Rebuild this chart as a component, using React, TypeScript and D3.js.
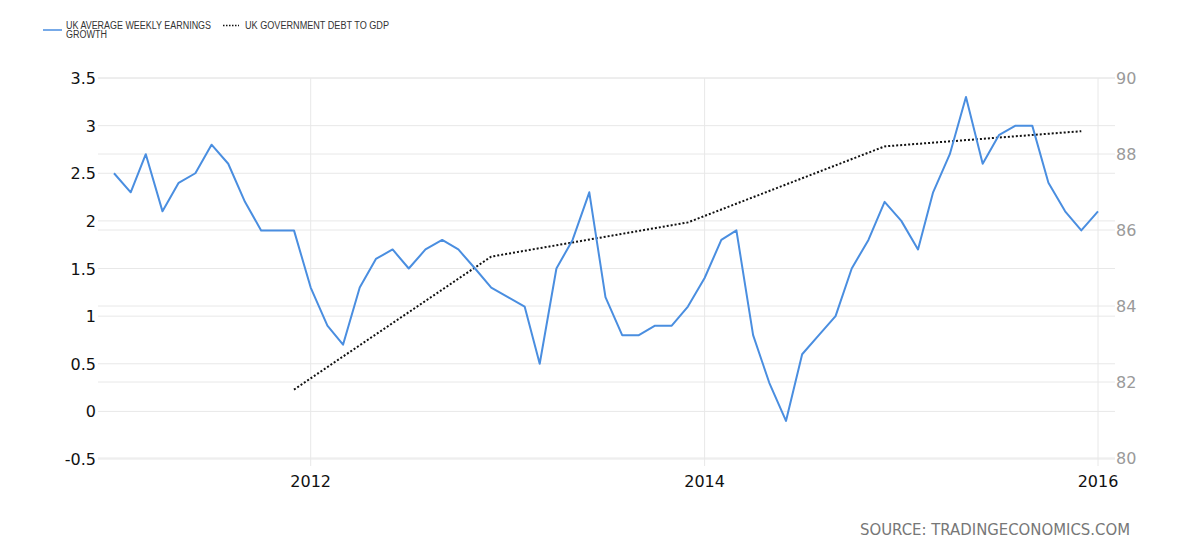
import { useMemo } from 'react'
import * as d3 from 'd3'

// monthly, Jan 2011 .. Jan 2016
const earningsStart = '2011-01-01'
const earningsGrowth = [
  2.5, 2.3, 2.7, 2.1, 2.4, 2.5, 2.8, 2.6, 2.2, 1.9, 1.9, 1.9,
  1.3, 0.9, 0.7, 1.3, 1.6, 1.7, 1.5, 1.7, 1.8, 1.7, 1.5, 1.3,
  1.2, 1.1, 0.5, 1.5, 1.8, 2.3, 1.2, 0.8, 0.8, 0.9, 0.9, 1.1,
  1.4, 1.8, 1.9, 0.8, 0.3, -0.1, 0.6, 0.8, 1.0, 1.5, 1.8, 2.2,
  2.0, 1.7, 2.3, 2.7, 3.3, 2.6, 2.9, 3.0, 3.0, 2.4, 2.1, 1.9,
  2.1,
]

const debtDates = ['2011-12-01', '2012-12-01', '2013-12-01', '2014-12-01', '2015-12-01']
const debtToGdp = [81.8, 85.3, 86.2, 88.2, 88.6]

const leftTicks = [-0.5, 0, 0.5, 1, 1.5, 2, 2.5, 3, 3.5]
const rightTicks = [80, 82, 84, 86, 88, 90]
const yearTicks = ['2012-01-01', '2014-01-01', '2016-01-01']

type Point = { date: Date; value: number }

export default function App() {
  const width = 1200
  const height = 559
  const plot = { left: 98, right: 1115, top: 78, bottom: 459 }

  const parse = (s: string) => new Date(s + 'T00:00:00')
  const earnings: Point[] = useMemo(
    () => earningsGrowth.map((value, i) => ({ date: d3.timeMonth.offset(parse(earningsStart), i), value })),
    [],
  )
  const debt: Point[] = useMemo(() => debtDates.map((d, i) => ({ date: parse(d), value: debtToGdp[i] })), [])

  const x = d3.scaleTime().domain([parse('2011-01-01'), parse('2016-01-01')]).range([114, 1098])
  const yLeft = d3.scaleLinear().domain([-0.5, 3.5]).range([plot.bottom, plot.top])
  const yRight = d3.scaleLinear().domain([80, 90]).range([458, plot.top])

  const earningsLine = d3
    .line<Point>()
    .x((d) => x(d.date))
    .y((d) => yLeft(d.value))
  const debtLine = d3
    .line<Point>()
    .x((d) => x(d.date))
    .y((d) => yRight(d.value))

  const grid = '#e8e8e8'

  return (
    <svg
      width={width}
      height={height}
      style={{ position: 'absolute', left: 0, top: 0, background: '#fff' }}
    >
      {/* legend */}
      <g fontFamily="'Liberation Sans', Arial, sans-serif" fontSize={10} fill="#333">
        <line x1={43} x2={62} y1={30} y2={30} stroke="#4a8ee0" strokeWidth={1.5} />
        <text x={66} y={29} textLength={145} lengthAdjust="spacingAndGlyphs">
          UK AVERAGE WEEKLY EARNINGS
        </text>
        <text x={66} y={38} textLength={41} lengthAdjust="spacingAndGlyphs">
          GROWTH
        </text>
        <line x1={223} x2={239} y1={25.5} y2={25.5} stroke="#111" strokeWidth={1.5} strokeDasharray="1.5 1.5" />
        <text x={245} y={29} textLength={144} lengthAdjust="spacingAndGlyphs">
          UK GOVERNMENT DEBT TO GDP
        </text>
      </g>

      {/* horizontal gridlines */}
      {leftTicks.map((t) => (
        <line key={'l' + t} x1={plot.left} x2={plot.right} y1={yLeft(t)} y2={yLeft(t)} stroke={grid} />
      ))}
      {rightTicks.map((t) => (
        <line key={'r' + t} x1={plot.left} x2={plot.right} y1={yRight(t)} y2={yRight(t)} stroke={grid} />
      ))}

      {/* vertical gridlines */}
      {yearTicks.map((t) => (
        <line key={t} x1={x(parse(t))} x2={x(parse(t))} y1={plot.top} y2={466} stroke={grid} />
      ))}

      {/* left axis labels */}
      <g fontFamily="'DejaVu Sans', Verdana, sans-serif" fontSize={16} fill="#111" textAnchor="end">
        {leftTicks.map((t) => (
          <text key={t} x={96} y={yLeft(t) + 6}>
            {String(t)}
          </text>
        ))}
      </g>

      {/* right axis labels */}
      <g fontFamily="'DejaVu Sans', Verdana, sans-serif" fontSize={16} fill="#9a9a9a" textAnchor="start">
        {rightTicks.map((t) => (
          <text key={t} x={1116} y={yRight(t) + 6}>
            {t}
          </text>
        ))}
      </g>

      {/* x axis labels */}
      <g fontFamily="'DejaVu Sans', Verdana, sans-serif" fontSize={16} fill="#111" textAnchor="middle">
        {yearTicks.map((t) => (
          <text key={t} x={x(parse(t))} y={487}>
            {d3.timeFormat('%Y')(parse(t))}
          </text>
        ))}
      </g>

      <path d={debtLine(debt) ?? ''} fill="none" stroke="#111" strokeWidth={2} strokeDasharray="2 2" />
      <path d={earningsLine(earnings) ?? ''} fill="none" stroke="#4a8ee0" strokeWidth={2} strokeLinejoin="round" />

      <text
        x={860}
        y={535}
        fontFamily="'DejaVu Sans', Verdana, sans-serif"
        fontSize={16}
        fill="#777"
        textLength={270}
        lengthAdjust="spacingAndGlyphs"
      >
        SOURCE: TRADINGECONOMICS.COM
      </text>
    </svg>
  )
}
